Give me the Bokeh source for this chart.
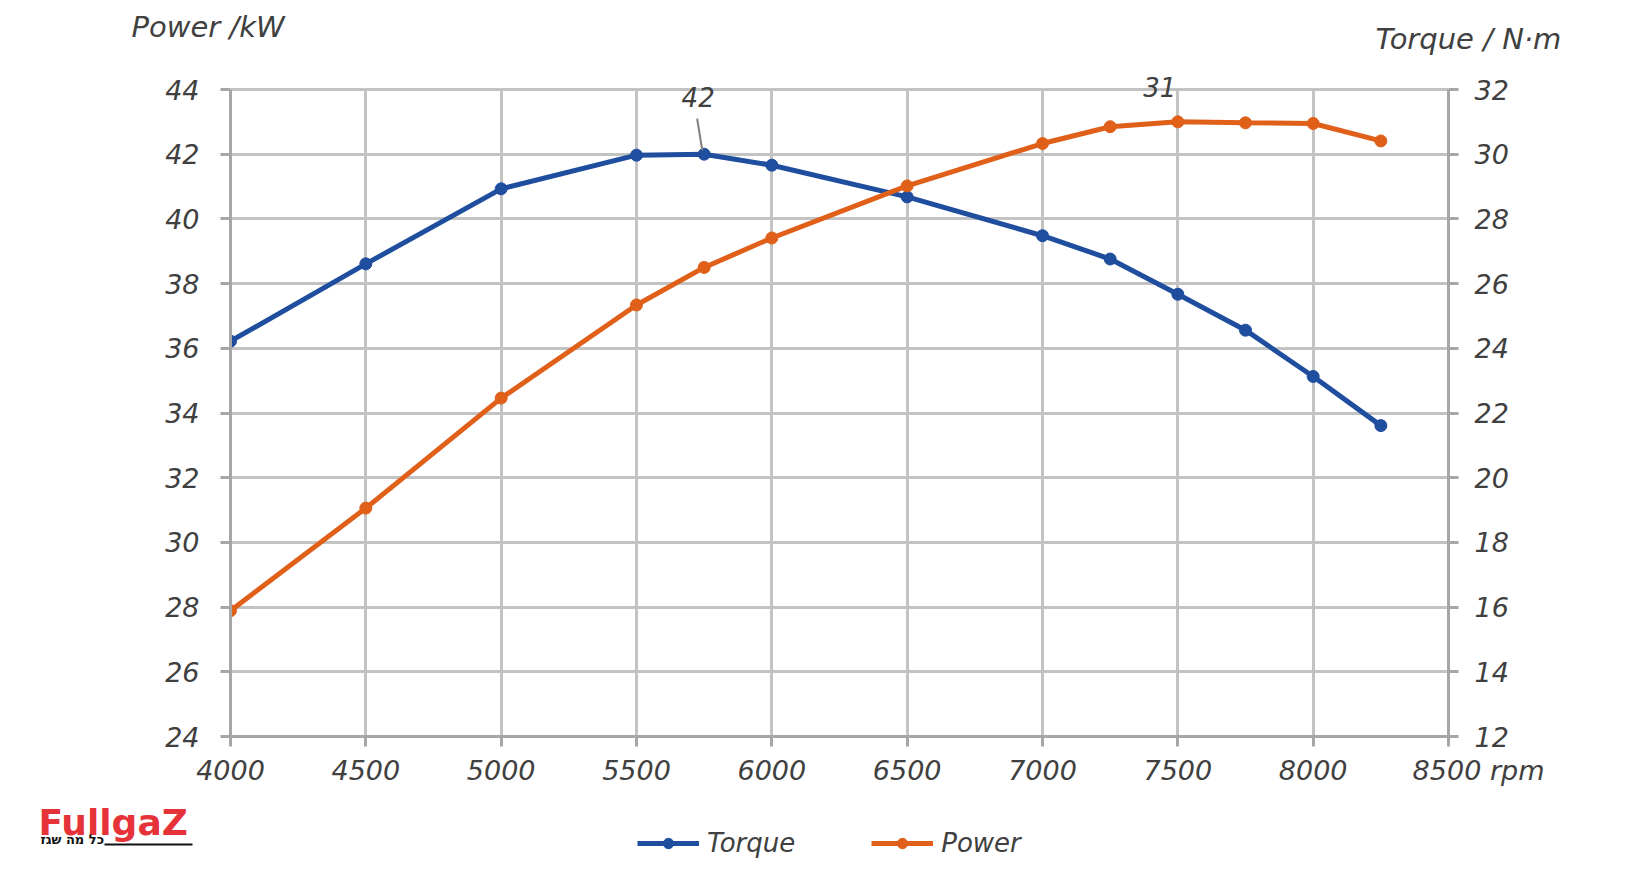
from bokeh.plotting import figure
from bokeh.layouts import column, row
from bokeh.models import (Range1d, LinearAxis, FixedTicker, Label, Legend, LegendItem,
                          BoxAnnotation)
from bokeh.embed import file_html
from bokeh.resources import INLINE

# ---- data ----
rpm = [4000, 4500, 5000, 5500, 5750, 6000, 6500, 7000, 7250, 7500, 7750, 8000, 8250]
torque = [36.22, 38.61, 40.93, 41.97, 42.0, 41.66, 40.68, 39.48, 38.76, 37.67, 36.56, 35.13, 33.61]
power = [15.89, 19.06, 22.46, 25.34, 26.5, 27.41, 29.02, 30.33, 30.85, 31.0, 30.97, 30.95, 30.41]
x_ticks = [4000, 4500, 5000, 5500, 6000, 6500, 7000, 7500, 8000, 8500]
left_ticks = [24, 26, 28, 30, 32, 34, 36, 38, 40, 42, 44]
right_ticks = [12, 14, 16, 18, 20, 22, 24, 26, 28, 30, 32]
left_title = "Power /kW"
right_title = "Torque / N·m"
x_unit = "rpm"
series_names = ["Torque", "Power"]

BLUE = "#1F4E9F"
ORANGE = "#E0601A"
GRID = "#C3C3C3"
AXIS = "#A6A6A6"
TEXT = "#404040"
FONT = "DejaVu Sans"
TICK_FS = "27px"

W = 1629
TOP_H = 70
FRAME_L, FRAME_W = 230, 1218
PLOT_TOP_PX = 19          # gap between frame top and the 44 gridline
PLOT_H = 647              # pixel height from 24 to 44
MAIN_BOTTOM = 56
BOT_H = 72

def strip(h):
    f = figure(width=W, height=h, x_range=Range1d(0, W), y_range=Range1d(0, h),
               min_border=0, x_axis_location=None, y_axis_location=None,
               output_backend="svg", toolbar_location=None)
    f.grid.visible = False
    f.outline_line_color = None
    return f

def slabel(fig, x, y, text, size, color=TEXT, style="italic", align="left"):
    fig.add_layout(Label(x=x, y=y, x_units="screen", y_units="screen", text=text,
                         text_align=align, text_baseline="alphabetic",
                         text_font=FONT, text_font_style=style, text_font_size=size,
                         text_color=color))

# ---- top strip: axis titles ----
top = strip(TOP_H)
slabel(top, 131, 44, left_title, "29px")
slabel(top, 1375, 32, right_title, "29px")

# ---- main chart ----
y_lo, y_hi = left_ticks[0], left_ticks[-1]
y_top = y_hi + PLOT_TOP_PX * (y_hi - y_lo) / PLOT_H
off = left_ticks[0] - right_ticks[0]

p = figure(width=W, height=PLOT_TOP_PX + PLOT_H + MAIN_BOTTOM,
           frame_width=FRAME_W, frame_height=PLOT_TOP_PX + PLOT_H,
           min_border_left=FRAME_L, min_border_top=0,
           min_border_right=W - FRAME_L - FRAME_W, min_border_bottom=MAIN_BOTTOM,
           x_range=Range1d(x_ticks[0], x_ticks[-1]), y_range=Range1d(y_lo, y_top),
           output_backend="svg", toolbar_location=None)
p.extra_y_ranges = {"pw": Range1d(right_ticks[0], y_top - off)}
p.outline_line_color = None

def style_axis(ax, standoff):
    ax.axis_line_color = AXIS
    ax.axis_line_width = 3
    ax.major_tick_line_color = AXIS
    ax.major_tick_line_width = 3
    ax.major_tick_out = 10
    ax.major_tick_in = 0
    ax.minor_tick_line_color = None
    ax.major_label_text_font = FONT
    ax.major_label_text_font_style = "italic"
    ax.major_label_text_font_size = TICK_FS
    ax.major_label_text_color = TEXT
    ax.major_label_standoff = standoff

xa = p.xaxis[0]
xa.ticker = FixedTicker(ticks=x_ticks)
style_axis(xa, 8)
last = x_ticks[-1]
xa.major_label_overrides = {last: "\u00a0" * 7 + f"{last} {x_unit}"}

ya = p.yaxis[0]
ya.ticker = FixedTicker(ticks=left_ticks)
ya.bounds = (y_lo, y_hi)
style_axis(ya, 21)

raxis = LinearAxis(y_range_name="pw", ticker=FixedTicker(ticks=right_ticks),
                   bounds=(right_ticks[0], right_ticks[-1]))
style_axis(raxis, 16)
p.add_layout(raxis, "right")

p.xgrid.ticker = FixedTicker(ticks=x_ticks)
p.ygrid.ticker = FixedTicker(ticks=left_ticks)
for g in (p.xgrid[0], p.ygrid[0]):
    g.grid_line_color = GRID
    g.grid_line_width = 3
xg = p.xgrid[0]
if "cross_bounds" in xg.properties():
    xg.cross_bounds = (y_lo, y_hi)
else:
    xg.visible = False
    p.segment(x0=x_ticks, y0=[y_lo] * len(x_ticks), x1=x_ticks, y1=[y_hi] * len(x_ticks),
              line_color=GRID, line_width=3, level="underlay")

# ---- series ----
p.line(rpm, torque, line_color=BLUE, line_width=5)
p.scatter(rpm, torque, size=12, fill_color=BLUE, line_color=BLUE)
p.line(rpm, power, line_color=ORANGE, line_width=5, y_range_name="pw")
p.scatter(rpm, power, size=12, fill_color=ORANGE, line_color=ORANGE, y_range_name="pw")

# ---- peak annotations ----
ti = torque.index(max(torque))
pi = power.index(max(power))
tx, ty = rpm[ti], torque[ti]
p.segment(x0=[tx - 26], y0=[ty + 1.1], x1=[tx - 7], y1=[ty + 0.12],
          line_color="#7F7F7F", line_width=2)
p.add_layout(Label(x=tx, y=ty, x_offset=-6, y_offset=57, text=f"{round(max(torque))}",
                   text_align="center", text_baseline="alphabetic",
                   text_font=FONT, text_font_style="italic", text_font_size="26px",
                   text_color=TEXT))
p.add_layout(Label(x=rpm[pi], y=power[pi], y_range_name="pw", x_offset=-18, y_offset=35,
                   text=f"{round(max(power))}",
                   text_align="center", text_baseline="alphabetic",
                   text_font=FONT, text_font_style="italic", text_font_size="26px",
                   text_color=TEXT))

# ---- bottom strip: logo + legend ----
bot = strip(BOT_H)
slabel(bot, 38, 42, "FullgaZ", "36px", color="#E63339", style="bold")
slabel(bot, 40, 25, "כל מה שגז", "13px", color="#111111", style="bold")
bot.add_layout(BoxAnnotation(left=104, right=192, bottom=19, top=21,
                             left_units="screen", right_units="screen",
                             bottom_units="screen", top_units="screen",
                             fill_color="#111111", fill_alpha=1, line_color=None))

# legend glyph renderers: same data, lying outside this strip's visible range
bl1 = bot.line(rpm, torque, line_color=BLUE, line_width=5)
bs1 = bot.scatter(rpm, torque, size=12, fill_color=BLUE, line_color=BLUE)
bl2 = bot.line(rpm, power, line_color=ORANGE, line_width=5)
bs2 = bot.scatter(rpm, power, size=12, fill_color=ORANGE, line_color=ORANGE)
legend = Legend(items=[LegendItem(label=series_names[0], renderers=[bl1, bs1]),
                       LegendItem(label=series_names[1], renderers=[bl2, bs2])],
                orientation="horizontal", location=(637, 6),
                glyph_width=62, glyph_height=26, label_height=26, label_standoff=8, spacing=76,
                padding=0, margin=0, border_line_color=None, background_fill_alpha=0,
                label_text_font=FONT, label_text_font_style="italic",
                label_text_font_size="26px", label_text_color=TEXT)
bot.add_layout(legend, "center")

layout = column(row(top), p, row(bot), spacing=0)
open("out.html", "w").write(file_html(layout, INLINE))
